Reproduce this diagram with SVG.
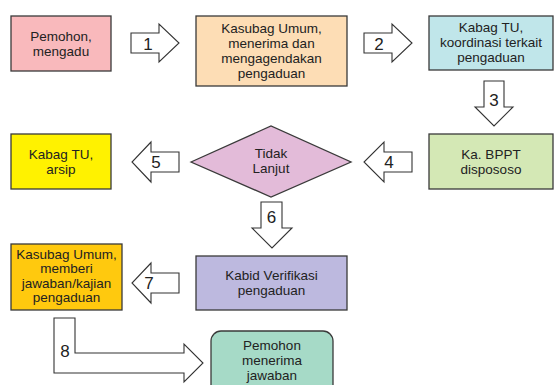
<svg xmlns="http://www.w3.org/2000/svg" width="554" height="385" viewBox="0 0 554 385">
<style>
.box{stroke:#3a3a3a;stroke-width:1.3}
.arr{fill:#fff;stroke:#333;stroke-width:1.1;stroke-linejoin:miter}
.t{font-family:"Liberation Sans",Arial,sans-serif;font-size:13.5px;fill:#222;text-anchor:middle}
.n{font-family:"Liberation Sans",Arial,sans-serif;font-size:17px;fill:#222;text-anchor:middle}
</style>
<rect width="554" height="385" fill="#fff"/>
<g id="connectors">
<polygon class="arr" points="131,33 159,33 159,24 179,43 159,62 159,53 131,53"/>
<text class="n" x="148" y="49.5">1</text>
<polygon class="arr" points="364,33 392,33 392,24 412,43 392,62 392,53 364,53"/>
<text class="n" x="379" y="49.5">2</text>
<polygon class="arr" points="484,81 504,81 504,107 513,107 494,126 475,107 484,107"/>
<text class="n" x="494" y="106">3</text>
<polygon class="arr" points="412,152 384,152 384,142 364,162 384,182 384,172 412,172"/>
<text class="n" x="389" y="168">4</text>
<polygon class="arr" points="179,152 151,152 151,142 132,162 151,182 151,172 179,172"/>
<text class="n" x="156" y="168">5</text>
<polygon class="arr" points="261,202 282,202 282,228 292,228 272,248 252,228 261,228"/>
<text class="n" x="271.5" y="223">6</text>
<polygon class="arr" points="179,273 151,273 151,263 132,283 151,303 151,293 179,293"/>
<text class="n" x="149" y="289">7</text>
<polygon class="arr" points="54,318 75,318 75,353 184,353 184,344 203,363 184,382 184,373 54,373"/>
<text class="n" x="65" y="357">8</text>
</g>
<g id="n1">
<rect class="box" x="11" y="16" width="100" height="55" fill="#F9B9BC"/>
<text class="t" x="61" y="40.5">Pemohon,</text>
<text class="t" x="61" y="56">mengadu</text>
</g>
<g id="n2">
<rect class="box" x="196" y="16" width="151" height="70" fill="#FDDDB5"/>
<text class="t" x="271.5" y="33">Kasubag Umum,</text>
<text class="t" x="271.5" y="48">menerima dan</text>
<text class="t" x="271.5" y="63">mengagendakan</text>
<text class="t" x="271.5" y="78">pengaduan</text>
</g>
<g id="n3">
<rect class="box" x="429" y="16" width="124" height="54" fill="#C0E6EA"/>
<text class="t" x="491" y="32">Kabag TU,</text>
<text class="t" x="491" y="47">koordinasi terkait</text>
<text class="t" x="491" y="62">pengaduan</text>
</g>
<g id="n4">
<rect class="box" x="429" y="134" width="124" height="55" fill="#D4E8B5"/>
<text class="t" x="491" y="158.5">Ka. BPPT</text>
<text class="t" x="491" y="173.5">dispososo</text>
</g>
<g id="n5">
<polygon class="box" points="191,162 271,126 351,162 271,197" fill="#E3BBD9"/>
<text class="t" x="271" y="158">Tidak</text>
<text class="t" x="271" y="172.5">Lanjut</text>
</g>
<g id="n6">
<rect class="box" x="11" y="134" width="100" height="55" fill="#FFF200"/>
<text class="t" x="61" y="158.5">Kabag TU,</text>
<text class="t" x="61" y="173.5">arsip</text>
</g>
<g id="n7">
<rect class="box" x="196" y="256" width="151" height="54" fill="#BDB9DF"/>
<text class="t" x="271.5" y="280">Kabid Verifikasi</text>
<text class="t" x="271.5" y="295">pengaduan</text>
</g>
<g id="n8">
<rect class="box" x="11" y="244" width="111" height="66" fill="#FFC90E"/>
<text class="t" x="66.5" y="258.5">Kasubag Umum,</text>
<text class="t" x="66.5" y="273">memberi</text>
<text class="t" x="66.5" y="287.5">jawaban/kajian</text>
<text class="t" x="66.5" y="302">pengaduan</text>
</g>
<g id="n9">
<rect class="box" x="211" y="331" width="122" height="64" rx="10" ry="10" fill="#A6DAC7"/>
<text class="t" x="272" y="349.5">Pemohon</text>
<text class="t" x="272" y="365">menerima</text>
<text class="t" x="272" y="380">jawaban</text>
</g>
</svg>
